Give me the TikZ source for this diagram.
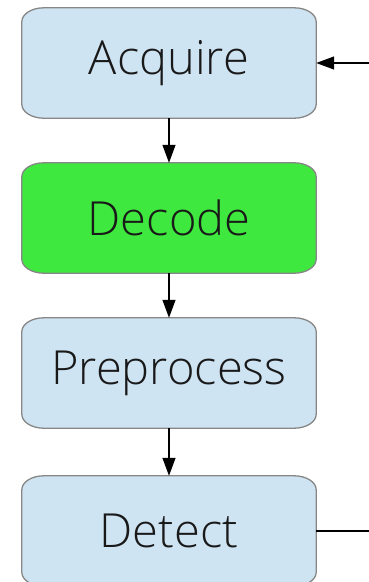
\documentclass[tikz,border=0pt]{standalone}
\usepackage{fontspec}
% Light sans for the block labels, with fallbacks
\IfFontExistsTF{Open Sans Light}{\setmainfont{Open Sans Light}}{%
 \IfFontExistsTF{Lato Light}{\setmainfont{Lato Light}}{%
  \IfFontExistsTF{Lato-Light.ttf}{\setmainfont{Lato-Light.ttf}}{%
   \IfFontExistsTF{Fira Sans Light}{\setmainfont{Fira Sans Light}}{%
    \IfFontExistsTF{DejaVu Sans ExtraLight}{\setmainfont{DejaVu Sans ExtraLight}}{%
     \setmainfont{Open Sans}}}}}}
\usetikzlibrary{arrows.meta,backgrounds}
\definecolor{boxblue}{RGB}{207,228,243}
\definecolor{boxgreen}{RGB}{62,232,62}
\definecolor{boxedge}{RGB}{135,135,135}
\definecolor{labelink}{RGB}{25,25,25}
\tikzset{
  block/.style={rectangle, minimum width=294pt, minimum height=110pt, inner sep=0pt,
    font=\fontsize{47}{50}\selectfont, text=labelink},
  blockline/.style={draw=boxedge, line width=1.3pt},
  flow/.style={line width=1.3pt, -{Triangle[length=18pt,width=13pt]}},
  plainflow/.style={line width=1.3pt}
}
\begin{document}
\begin{tikzpicture}[x=1pt,y=1pt]
\useasboundingbox (0,0) rectangle (369,-582);
\clip (0,0) rectangle (369,-582);
\node[block] (acq) at (169,-63)  {Acquire};
\node[block] (dec) at (169,-218) {Decode};
\node[block] (pre) at (169,-373) {Preprocess};
\node[block] (det) at (169,-531) {Detect};
\begin{pgfonlayer}{background}
\foreach \n/\c in {acq/boxblue,dec/boxgreen,pre/boxblue,det/boxblue}{
  \draw[blockline, fill=\c]
    ([yshift=14pt]\n.south west) -- ([yshift=-14pt]\n.north west)
    arc[start angle=180, end angle=90, x radius=22pt, y radius=14pt]
    -- ([xshift=-22pt]\n.north east)
    arc[start angle=90, end angle=0, x radius=22pt, y radius=14pt]
    -- ([yshift=14pt]\n.south east)
    arc[start angle=0, end angle=-90, x radius=22pt, y radius=14pt]
    -- ([xshift=22pt]\n.south west)
    arc[start angle=270, end angle=180, x radius=22pt, y radius=14pt]
    -- cycle;
}
\end{pgfonlayer}
\coordinate (inR) at (369,-63);
\coordinate (outR) at (369,-531);
\draw[flow] (inR) -- (acq.east);
\draw[flow] (acq.south) -- (dec.north);
\draw[flow] (dec.south) -- (pre.north);
\draw[flow] (pre.south) -- (det.north);
\draw[plainflow] (det.east) -- (outR);
\end{tikzpicture}
\end{document}
